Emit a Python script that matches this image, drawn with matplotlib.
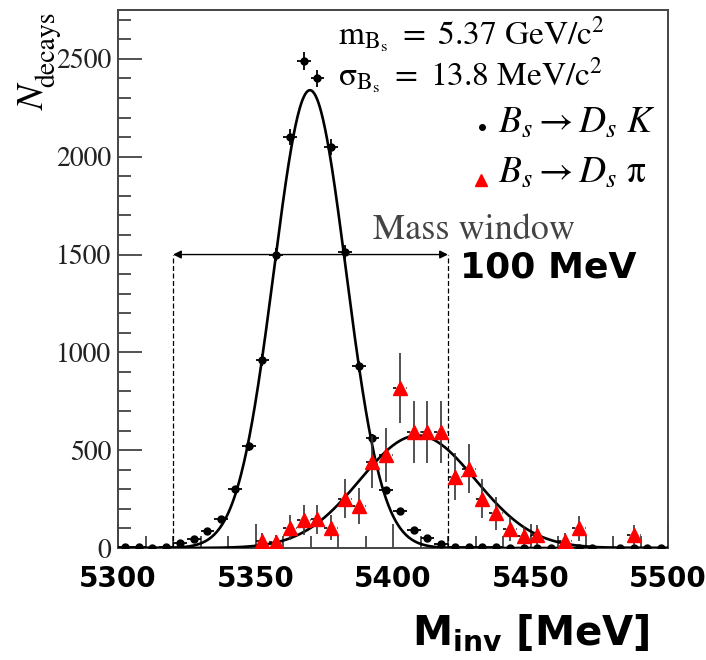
import numpy as np
import matplotlib
matplotlib.use('agg')
import matplotlib.pyplot as plt
from matplotlib.ticker import MultipleLocator

plt.rcParams['mathtext.fontset'] = 'stix'

# Data (bin centres in MeV, 5 MeV bins)
bins_k = [5302.5, 5307.5, 5312.5, 5317.5, 5322.5, 5327.5, 5332.5, 5337.5,
          5342.5, 5347.5, 5352.5, 5357.5, 5362.5, 5367.5, 5372.5, 5377.5,
          5382.5, 5387.5, 5392.5, 5397.5, 5402.5, 5407.5, 5412.5, 5417.5,
          5422.5, 5427.5, 5432.5, 5437.5, 5442.5, 5447.5, 5452.5, 5457.5,
          5462.5, 5467.5, 5472.5, 5482.5, 5487.5, 5492.5, 5497.5]
n_k = [3, 5, 2, 5, 25, 45, 85, 150,
       300, 520, 963, 1500, 2100, 2490, 2400, 2050,
       1515, 930, 560, 296, 189, 92, 49, 20,
       6, 3, 3, 3, 2, 2, 2, 1,
       1, 1, 1, 1, 1, 1, 1]
err_k = [2, 2, 2, 2, 5, 7, 9, 12,
         17, 23, 31, 35, 40, 47, 45, 42,
         36, 28, 22, 16, 13, 9, 7, 4,
         2, 2, 2, 2, 2, 2, 2, 1,
         1, 1, 1, 1, 1, 1, 1]

bins_pi = [5352.5, 5357.5, 5362.5, 5367.5, 5372.5, 5377.5, 5382.5, 5387.5,
           5392.5, 5397.5, 5402.5, 5407.5, 5412.5, 5417.5, 5422.5, 5427.5,
           5432.5, 5437.5, 5442.5, 5447.5, 5452.5, 5462.5, 5467.5, 5487.5]
n_pi = [37, 32, 104, 143, 146, 104, 253, 216,
        440, 474, 818, 593, 593, 593, 364, 406,
        253, 177, 95, 63, 66, 37, 100, 66]
err_pi = [38, 36, 64, 75, 76, 64, 100, 93,
          132, 137, 180, 158, 158, 158, 120, 127,
          100, 84, 61, 50, 51, 38, 63, 51]

# Gaussian fit parameters (amplitude, mean, sigma)
fit_k = (2340, 5369.8, 13.1)
fit_pi = (575, 5409.0, 21.0)

window = (5320, 5420)
window_y = 1500


def gauss(x, amp, mu, sig):
    return amp * np.exp(-0.5 * ((x - mu) / sig) ** 2)


fig = plt.figure(figsize=(7.06, 6.6), dpi=100)
ax = fig.add_axes([118 / 706, 1 - 548 / 660, 550 / 706, 538 / 660])

xx = np.linspace(5300, 5500, 800)
ax.plot(xx, gauss(xx, *fit_k), color='black', lw=1.9, zorder=3)
ax.plot(xx, gauss(xx, *fit_pi), color='black', lw=1.9, zorder=3)

# Bs -> Ds K
ax.errorbar(bins_k, n_k, yerr=err_k, xerr=2.5, fmt='o', color='black',
            ms=5, elinewidth=1.3, capsize=0, zorder=4)

# Bs -> Ds pi
eb = ax.errorbar(bins_pi, n_pi, yerr=err_pi, xerr=2.5, fmt='^', color='red',
                 ecolor='#333333', ms=9.5, elinewidth=1.2, capsize=0, zorder=5)
eb[2][0].set_linestyle((0, (2, 2)))
eb[2][0].set_color('black')

# Mass window
for xw in window:
    ax.plot([xw, xw], [0, window_y], color='black', lw=0.9, ls=(0, (4, 2)), zorder=2)
ax.annotate('', xy=(window[0], window_y), xytext=(window[1], window_y),
            arrowprops=dict(arrowstyle='<|-|>', color='black', lw=1.0,
                            mutation_scale=12, shrinkA=0, shrinkB=0))

ax.set_xlim(5300, 5500)
ax.set_ylim(0, 2750)
ax.xaxis.set_major_locator(MultipleLocator(50))
ax.xaxis.set_minor_locator(MultipleLocator(10))
ax.yaxis.set_major_locator(MultipleLocator(500))
ax.yaxis.set_minor_locator(MultipleLocator(100))
ax.tick_params(which='both', direction='in', top=False, right=False,
               color='#333333', width=1.2)
ax.tick_params(which='major', length=17)
ax.tick_params(which='minor', length=9)
ax.tick_params(axis='x', pad=12, labelsize=20)
ax.tick_params(axis='y', pad=5, labelsize=20)
for lab in ax.get_xticklabels():
    lab.set_fontweight('bold')
for lab in ax.get_yticklabels():
    lab.set_family('STIXGeneral')
    lab.set_color('#222222')
for sp in ax.spines.values():
    sp.set_color('#444444')
    sp.set_linewidth(1.4)


def px(x, y):
    return x / 706, 1 - y / 660


fig.text(*px(338, 45), r'$\mathrm{m_{B_s}\ =\ 5.37\ GeV/c^2}$', fontsize=24,
         va='baseline', ha='left')
fig.text(*px(338, 86), r'$\mathrm{\sigma_{B_s}\ =\ 13.8\ MeV/c^2}$', fontsize=24,
         va='baseline', ha='left')
fig.text(*px(498, 133), r'$B_s \rightarrow D_s\ K$', fontsize=27,
         va='baseline', ha='left')
fig.text(*px(498, 183), r'$B_s \rightarrow D_s\ \mathrm{\pi}$', fontsize=27,
         va='baseline', ha='left')
fig.lines.append(plt.Line2D([482 / 706], [1 - 127 / 660], marker='o', ms=4,
                            color='black', transform=fig.transFigure))
fig.lines.append(plt.Line2D([481 / 706], [1 - 180 / 660], marker='^', ms=8,
                            color='red', transform=fig.transFigure))

fig.text(*px(373, 240), 'Mass window', family='STIXGeneral', fontsize=26,
         color='#444444', va='baseline', ha='left')
fig.text(*px(460, 278), '100 MeV', fontweight='bold', fontsize=26,
         va='baseline', ha='left')

fig.text(*px(412, 645), r'$\mathbf{M_{inv}}$ [MeV]', fontweight='bold',
         fontsize=29, va='baseline', ha='left', math_fontfamily='dejavusans')

# y label: italic N with a large roman subscript
fig.text(*px(43, 110), 'N', family='STIXGeneral', style='italic', fontsize=27,
         rotation=90, rotation_mode='anchor', va='baseline', ha='left')
fig.text(*px(54, 87), 'decays', family='STIXGeneral', fontsize=20,
         rotation=90, rotation_mode='anchor', va='baseline', ha='left')

fig.savefig('out.png', dpi=100)
